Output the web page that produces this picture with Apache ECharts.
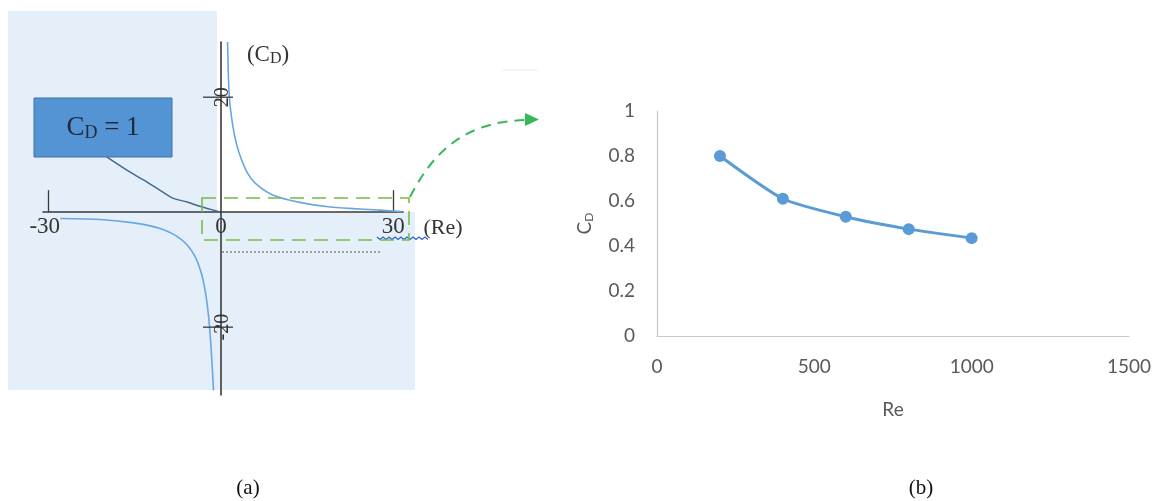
<!DOCTYPE html>
<html><head><meta charset="utf-8">
<script src="https://cdn.jsdelivr.net/npm/echarts@6/dist/echarts.min.js"></script>
<style>html,body{margin:0;padding:0;background:#fff}#c{width:1162px;height:501px}</style>
</head><body><div id="c"></div>
<script>
// ---- Panel (a): sketch of C_D against Re ----
const aUpperRe = [1.15, 1.45, 2.1, 3.0, 4.5, 6.0, 9.0, 13.7, 19, 27.7, 31.5];
const aUpperCd = [29.6, 20.1, 14.8, 10.8, 7.0, 5.0, 3.0, 1.7, 0.9, 0.35, 0.1];
const aLowerRe = [-28, -21, -15.2, -10.6, -7.1, -4.8, -3.4, -2.5, -1.9, -1.3];
const aLowerCd = [-1.1, -1.27, -1.86, -2.84, -4.6, -7.2, -10.7, -15.3, -21.1, -31];
const aLeaderRe = [-19.9, -16.4, -13.5, -10.6, -8.3, -6.0, -3.7, -1.3, -0.2];
const aLeaderCd = [9.6, 7.3, 5.6, 3.8, 2.4, 1.8, 1.04, 0.35, 0.05];
const aXTicks = [-30, 30];
const aXLabels = [-30, 0, 30];
const aYTicks = [20, -20];
const aYLabels = ['20', '-20'];
// ---- Panel (b): C_D against Re ----
const bRe = [200, 400, 600, 800, 1000];
const bCd = [0.80, 0.61, 0.53, 0.475, 0.435];
const bXTicks = [0, 500, 1000, 1500];

const zip = (xs, ys) => xs.map((x, i) => [x, ys[i]]);
const chart = echarts.init(document.getElementById('c'), null, {renderer: 'canvas'});
const serif = 'Liberation Serif';

const staticGraphic = [
  {type: 'polygon', z: -10, shape: {points: [[8, 11], [217, 11], [217, 212], [415, 212], [415, 390], [8, 390]]},
   style: {fill: '#e4effa'}},
  {type: 'rect', z: 5, shape: {x: 34, y: 98, width: 138, height: 59},
   style: {fill: '#5594d4', stroke: '#3f73a8', lineWidth: 1}},
  {type: 'text', z: 6, x: 103, y: 128,
   style: {text: 'C{s|D} = 1', fontFamily: serif, fontSize: 27, fill: '#1e2a3a', align: 'center', verticalAlign: 'middle',
           rich: {s: {fontFamily: serif, fontSize: 18, fill: '#1e2a3a', padding: [10, 0, 0, 0]}}}},
  {type: 'text', x: 268, y: 55,
   style: {text: '(C{s|D})', fontFamily: serif, fontSize: 23, fill: '#333', align: 'center', verticalAlign: 'middle',
           rich: {s: {fontFamily: serif, fontSize: 16, fill: '#333', padding: [8, 0, 0, 0]}}}},
  {type: 'text', x: 443, y: 228,
   style: {text: '(Re)', fontFamily: serif, fontSize: 22, fill: '#333', align: 'center', verticalAlign: 'middle'}},
  {type: 'rect', z: 4, shape: {x: 202, y: 198, width: 207, height: 42},
   style: {fill: 'none', stroke: '#78bb48', lineWidth: 1.6, lineDash: [14, 8]}},
  {type: 'bezierCurve', z: 4, shape: {x1: 410, y1: 197, cpx1: 430, cpy1: 158, cpx2: 460, cpy2: 121, x2: 527, y2: 120},
   style: {stroke: '#35b85a', lineWidth: 2, lineDash: [10, 7], fill: 'none'}},
  {type: 'polygon', z: 4, shape: {points: [[525, 113], [539, 119.5], [525, 126]]}, style: {fill: '#35b85a'}},
  {type: 'line', z: 3, shape: {x1: 222, y1: 252, x2: 380, y2: 252}, style: {stroke: '#555', lineWidth: 1, lineDash: [2, 2]}},
  {type: 'polyline', z: 3, shape: {points: Array.from({length: 18}, (_, i) => [377 + i * 3, 238 + (i % 2 ? 1.5 : -1)])},
   style: {stroke: '#2f62d8', lineWidth: 1.2, fill: 'none'}},
  {type: 'line', shape: {x1: 502, y1: 70, x2: 538, y2: 70}, style: {stroke: '#ececec', lineWidth: 1}},
  {type: 'text', x: 248, y: 488, style: {text: '(a)', fontFamily: serif, fontSize: 21, fill: '#111', align: 'center', verticalAlign: 'middle'}},
  {type: 'text', x: 921, y: 488, style: {text: '(b)', fontFamily: serif, fontSize: 21, fill: '#111', align: 'center', verticalAlign: 'middle'}}
];

const option = {
  animation: false,
  backgroundColor: '#fff',
  grid: [
    {left: 43, right: 1162 - 403, top: 42, bottom: 501 - 395},
    {left: 657, right: 1162 - 1129, top: 111, bottom: 501 - 336}
  ],
  xAxis: [
    {type: 'value', gridIndex: 0, min: -31, max: 31.7, splitLine: {show: false},
     axisLine: {onZero: true, lineStyle: {color: '#3a3a3a', width: 1.6}},
     axisTick: {show: true, inside: true, length: 22, customValues: aXTicks, lineStyle: {color: '#3a3a3a', width: 1.3}},
     axisLabel: {show: false}},
    {type: 'value', gridIndex: 1, min: 0, max: 1500, interval: 500, splitLine: {show: false},
     axisLine: {lineStyle: {color: '#c8c8c8', width: 1.2}}, axisTick: {show: false},
     axisLabel: {customValues: bXTicks, formatter: v => String(v), fontFamily: 'Lato', fontSize: 19, color: '#595959', margin: 21},
     name: 'Re', nameLocation: 'middle', nameGap: 64,
     nameTextStyle: {fontFamily: 'Lato', fontSize: 19, color: '#595959'}}
  ],
  yAxis: [
    {type: 'value', gridIndex: 0, min: -31.8, max: 29.6, splitLine: {show: false},
     axisLine: {onZero: true, lineStyle: {color: '#3a3a3a', width: 1.6}},
     axisTick: {show: false}, axisLabel: {show: false}},
    {type: 'value', gridIndex: 1, min: 0, max: 1, interval: 0.2, splitLine: {show: false},
     axisLine: {show: true, lineStyle: {color: '#c8c8c8', width: 1.2}}, axisTick: {show: false},
     axisLabel: {formatter: v => String(Math.round(v * 10) / 10), fontFamily: 'Lato', fontSize: 19, color: '#595959', margin: 22},
     name: 'C{s|D}', nameLocation: 'middle', nameGap: 62,
     nameTextStyle: {fontFamily: 'Lato', fontSize: 19, color: '#595959',
       rich: {s: {fontFamily: 'Lato', fontSize: 12, color: '#595959', padding: [8, 0, 0, 0]}}}}
  ],
  series: [
    {type: 'line', xAxisIndex: 0, yAxisIndex: 0, data: zip(aUpperRe, aUpperCd), smooth: 0.3, showSymbol: false,
     lineStyle: {color: '#68a7e0', width: 1.6}, z: 3},
    {type: 'line', xAxisIndex: 0, yAxisIndex: 0, data: zip(aLowerRe, aLowerCd), smooth: 0.3, showSymbol: false,
     lineStyle: {color: '#68a7e0', width: 1.6}, z: 3},
    {type: 'line', xAxisIndex: 0, yAxisIndex: 0, data: zip(aLeaderRe, aLeaderCd), smooth: 0.3, showSymbol: false,
     lineStyle: {color: '#44698f', width: 1.5}, z: 3},
    {type: 'line', xAxisIndex: 1, yAxisIndex: 1, data: zip(bRe, bCd), smooth: 0.2,
     symbol: 'circle', symbolSize: 12, itemStyle: {color: '#5b9bd5'},
     lineStyle: {color: '#5b9bd5', width: 3}}
  ],
  graphic: staticGraphic
};
chart.setOption(option);

// ticks and tick labels of the sketch, positioned through the axis scales
const toPx = (x, y) => chart.convertToPixel({xAxisIndex: 0, yAxisIndex: 0}, [x, y]);
const yTickGraphic = aYTicks.map((v, i) => {
  const p = toPx(0, v);
  return [
    {type: 'line', z: 4, shape: {x1: p[0] - 18, y1: p[1], x2: p[0] + 12, y2: p[1]}, style: {stroke: '#3a3a3a', lineWidth: 1.3}},
    {type: 'text', z: 4, x: p[0] + 2, y: p[1], rotation: Math.PI / 2,
     style: {text: aYLabels[i], fontFamily: serif, fontSize: 20, fill: '#333', align: 'center', verticalAlign: 'middle'}}
  ];
}).flat();
const xLabelGraphic = aXLabels.map(v => {
  const p = toPx(v, 0);
  return {type: 'text', z: 4, x: p[0] - (v < 0 ? 4 : 0), y: p[1] + 15,
    style: {text: String(v), fontFamily: serif, fontSize: 23, fill: '#333', align: 'center', verticalAlign: 'middle'}};
});
chart.setOption({graphic: staticGraphic.concat(yTickGraphic, xLabelGraphic)});
</script></body></html>
